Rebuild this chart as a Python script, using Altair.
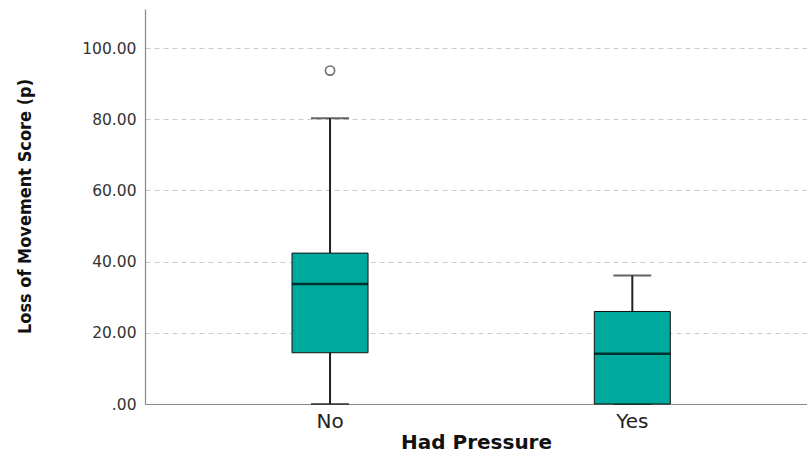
import altair as alt
import pandas as pd

# Summary statistics per group (five-number summary + outliers)
groups = ["No", "Yes"]
whisker_low = [0.0, 0.0]
q1 = [14.4, 0.0]
median = [33.7, 14.1]
q3 = [42.4, 26.0]
whisker_high = [80.3, 36.1]

outlier_groups = ["No"]
outlier_values = [93.7]

y_ticks = [0, 20, 40, 60, 80, 100]

stats = pd.DataFrame({
    "group": groups,
    "low": whisker_low,
    "q1": q1,
    "median": median,
    "q3": q3,
    "high": whisker_high,
})
outliers = pd.DataFrame({"group": outlier_groups, "value": outlier_values})

TEAL = "#00A99D"
INK = "#222222"
Y_TITLE = "Loss of Movement Score (p)"

x_scale = alt.Scale(domain=groups, paddingInner=0, paddingOuter=0.095, align=0.59)
y_scale = alt.Scale(domain=[0, 111], nice=False, zero=True)

x_enc = alt.X("group:N", scale=x_scale, title="Had Pressure", sort=groups)


def y_enc(field):
    return alt.Y(
        f"{field}:Q",
        scale=y_scale,
        title=Y_TITLE,
        axis=alt.Axis(
            values=y_ticks,
            labelExpr="datum.value == 0 ? '.00' : format(datum.value, '.2f')",
        ),
    )


base = alt.Chart(stats)

whisker = base.mark_rule(color=INK, strokeWidth=2).encode(
    x=x_enc, y=y_enc("low"), y2="high:Q"
)

caps_low = base.mark_tick(color=INK, size=38, thickness=2).encode(
    x=x_enc, y=y_enc("low")
)
caps_high = base.mark_tick(color=INK, size=38, thickness=2).encode(
    x=x_enc, y=y_enc("high")
)

box = base.mark_bar(size=76, fill=TEAL, stroke="#111111", strokeWidth=1).encode(
    x=x_enc, y=y_enc("q1"), y2="q3:Q"
)

mid = base.mark_tick(color="#000000", size=76, thickness=2.5).encode(
    x=x_enc, y=y_enc("median")
)

points = alt.Chart(outliers).mark_point(
    shape="circle", filled=False, size=85, stroke="#333333", strokeWidth=1.6
).encode(x=x_enc, y=y_enc("value"))

chart = (
    alt.layer(whisker, caps_low, caps_high, box, mid, points)
    .properties(
        width=662,
        height=395,
        autosize=alt.AutoSizeParams(type="none"),
        padding={"left": 145, "top": 9, "right": 0, "bottom": 61},
    )
    .configure_view(stroke=None)
    .configure_axis(
        domainColor="#888888",
        domainWidth=1.2,
        ticks=False,
        labelFont="DejaVu Sans",
        labelColor="#333333",
        titleColor="#111111",
    )
    .configure_axisY(
        grid=True,
        gridColor="#cccccc",
        gridDash=[5, 4],
        gridWidth=1,
        labelFontSize=15.5,
        labelPadding=9,
        titleFont="DejaVu Sans Condensed, Roboto, sans-serif",
        titleFontSize=18,
        titleFontWeight="bold",
        titleAngle=-90,
        titleX=-120,
        titleY=197,
        titleAlign="center",
        titleBaseline="middle",
    )
    .configure_axisX(
        grid=False,
        labelAngle=0,
        labelFontSize=20,
        labelColor="#222222",
        labelPadding=7,
        titleFont="DejaVu Sans",
        titleFontSize=20,
        titleFontWeight="bold",
        titleBaseline="alphabetic",
        titleY=44,
    )
)

chart.save("out.html", embed_options={"renderer": "svg", "actions": False})
